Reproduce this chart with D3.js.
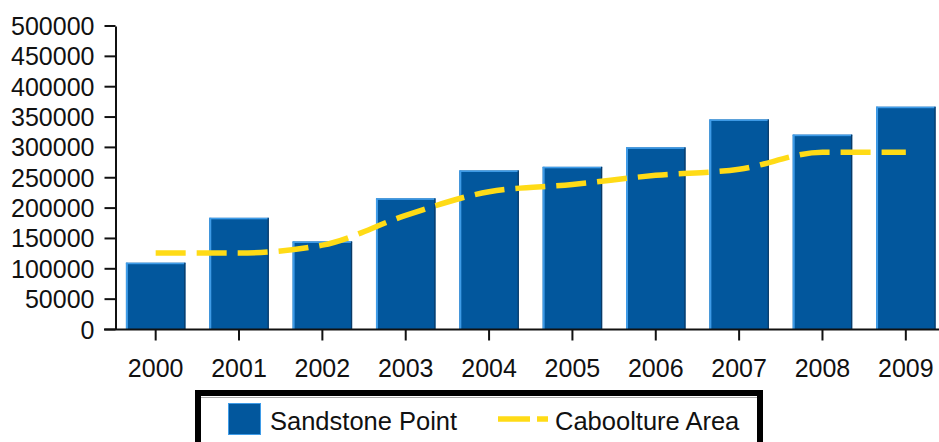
<!DOCTYPE html>
<html>
<head>
<meta charset="utf-8">
<script src="https://cdn.jsdelivr.net/npm/d3@7/dist/d3.min.js"></script>
<style>
  html, body { margin: 0; padding: 0; background: #fff; }
  svg { display: block; }
  text { font-family: "Liberation Sans", Arial, sans-serif; fill: #111; }
</style>
</head>
<body>
<svg id="chart" width="939" height="442"></svg>
<script>
const years = ["2000","2001","2002","2003","2004","2005","2006","2007","2008","2009"];
const sandstonePoint = [110000, 184000, 145000, 216000, 262000, 268000, 300000, 346000, 321000, 367000];
const cabooltureArea = [126000, 126000, 139000, 188000, 227000, 239000, 254000, 264000, 292000, 292000];
const yTicks = [0, 50000, 100000, 150000, 200000, 250000, 300000, 350000, 400000, 450000, 500000];
const seriesNames = ["Sandstone Point", "Caboolture Area"];

const svg = d3.select("#chart");
const x = d3.scaleBand().domain(years).range([114, 947.5]).paddingInner(0.286).paddingOuter(0.143);
const y = d3.scaleLinear().domain([0, 500000]).range([329.5, 26]);

const barColor = "#02579d";
const lineColor = "#ffdb16";

// Bars
const bars = svg.append("g").selectAll("g").data(years).join("g");
bars.append("rect")
  .attr("x", d => x(d))
  .attr("y", (d, i) => y(sandstonePoint[i]))
  .attr("width", x.bandwidth())
  .attr("height", (d, i) => y(0) - y(sandstonePoint[i]))
  .attr("fill", barColor);
// bevel highlights
bars.append("rect")
  .attr("x", d => x(d))
  .attr("y", (d, i) => y(sandstonePoint[i]))
  .attr("width", 2)
  .attr("height", (d, i) => y(0) - y(sandstonePoint[i]))
  .attr("fill", "#3f9ce8");
bars.append("rect")
  .attr("x", d => x(d))
  .attr("y", (d, i) => y(sandstonePoint[i]))
  .attr("width", x.bandwidth())
  .attr("height", 1.5)
  .attr("fill", "#3f9ce8");
bars.append("rect")
  .attr("x", d => x(d) + x.bandwidth() - 1.2)
  .attr("y", (d, i) => y(sandstonePoint[i]))
  .attr("width", 1.2)
  .attr("height", (d, i) => y(0) - y(sandstonePoint[i]))
  .attr("fill", "#0a3a66");

// Line
const line = d3.line()
  .x((d, i) => x(years[i]) + x.bandwidth() / 2)
  .y(d => y(d))
  .curve(d3.curveMonotoneX);
svg.append("path")
  .datum(cabooltureArea)
  .attr("d", line)
  .attr("fill", "none")
  .attr("stroke", lineColor)
  .attr("stroke-width", 5.5)
  .attr("stroke-dasharray", "30,11");

// Y axis
const yAxis = d3.axisLeft(y).tickValues(yTicks).tickFormat(d3.format("d")).tickSize(11).tickPadding(10).tickSizeOuter(0);
const gy = svg.append("g").attr("transform", "translate(115.5,0)").call(yAxis);
gy.select(".domain").attr("stroke", "#111").attr("stroke-width", 2);
gy.selectAll(".tick line").attr("stroke", "#111").attr("stroke-width", 2);
gy.selectAll(".tick text").attr("font-size", 25).attr("font-family", "Liberation Sans, Arial, sans-serif").attr("fill", "#111")
  .attr("transform", "scale(1,1.08)").attr("dy", "0.3em")
  .each(function(d){ d3.select(this).attr("y", 0); });
gy.selectAll(".tick").attr("transform", d => `translate(0,${y(d)})`);
gy.selectAll(".tick text").attr("transform", null).attr("dy", "0.36em");

// X axis
const xAxis = d3.axisBottom(x).tickSize(11).tickPadding(19).tickSizeOuter(0);
const gx = svg.append("g").attr("transform", "translate(0,329.5)").call(xAxis);
gx.select(".domain").remove();
gx.append("line").attr("x1", 104).attr("x2", 939).attr("y1", 0).attr("y2", 0).attr("stroke", "#111").attr("stroke-width", 2);
gx.selectAll(".tick line").attr("stroke", "#111").attr("stroke-width", 2);
gx.selectAll(".tick text").attr("font-size", 25).attr("font-family", "Liberation Sans, Arial, sans-serif").attr("fill", "#111");

// Legend
const lg = svg.append("g");
lg.append("rect").attr("x", 198).attr("y", 393).attr("width", 562).attr("height", 70)
  .attr("fill", "#fff").attr("stroke", "#000").attr("stroke-width", 6);
lg.append("line").attr("x1", 201).attr("x2", 757).attr("y1", 397.5).attr("y2", 397.5).attr("stroke", "#aaa").attr("stroke-width", 1);
lg.append("rect").attr("x", 228.5).attr("y", 403.5).attr("width", 32).attr("height", 31)
  .attr("fill", barColor).attr("stroke", "#3f9ce8").attr("stroke-width", 1);
lg.append("text").attr("x", 270).attr("y", 430).attr("font-size", 25.5).text(seriesNames[0]);
lg.append("line").attr("x1", 498).attr("x2", 548).attr("y1", 419).attr("y2", 419)
  .attr("stroke", lineColor).attr("stroke-width", 5.5).attr("stroke-dasharray", "32,7");
lg.append("text").attr("x", 555).attr("y", 430).attr("font-size", 25.5).text(seriesNames[1]);
</script>
</body>
</html>
